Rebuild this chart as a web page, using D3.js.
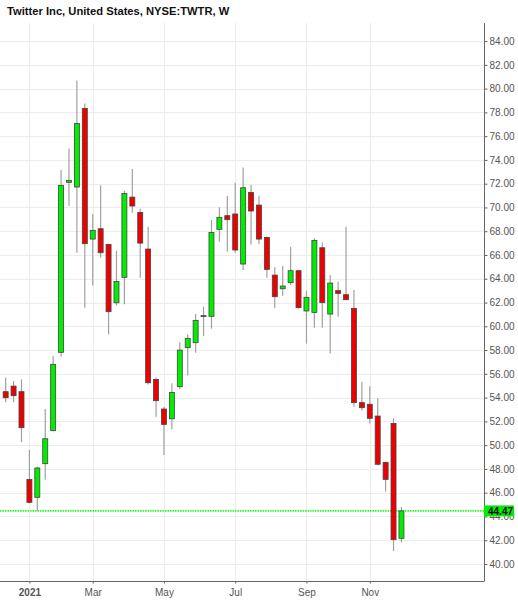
<!DOCTYPE html>
<html>
<head>
<meta charset="utf-8">
<script src="https://cdn.jsdelivr.net/npm/d3@7"></script>
<style>
    body { margin: 0; background: #fff; }
    #chart text { font-family: "Liberation Sans", Arial, sans-serif; }
</style>
</head>
<body>
<div id="chart"></div>
<script>
// Weekly candles, week start dates
var weeks = [
    "2020-12-14", "2020-12-21", "2020-12-28",
    "2021-01-04", "2021-01-11", "2021-01-18", "2021-01-25",
    "2021-02-01", "2021-02-08", "2021-02-15", "2021-02-22",
    "2021-03-01", "2021-03-08", "2021-03-15", "2021-03-22", "2021-03-29",
    "2021-04-05", "2021-04-12", "2021-04-19", "2021-04-26",
    "2021-05-03", "2021-05-10", "2021-05-17", "2021-05-24", "2021-05-31",
    "2021-06-07", "2021-06-14", "2021-06-21", "2021-06-28",
    "2021-07-05", "2021-07-12", "2021-07-19", "2021-07-26",
    "2021-08-02", "2021-08-09", "2021-08-16", "2021-08-23", "2021-08-30",
    "2021-09-06", "2021-09-13", "2021-09-20", "2021-09-27",
    "2021-10-04", "2021-10-11", "2021-10-18", "2021-10-25",
    "2021-11-01", "2021-11-08", "2021-11-15", "2021-11-22", "2021-11-29"
];
var opens = [
    54.50, 54.97, 54.50, 47.12, 45.61, 48.44, 51.22, 57.81, 72.11, 71.72,
    78.33, 67.34, 68.21, 66.89, 61.98, 64.12, 70.87, 69.58, 66.50, 55.53,
    53.04, 52.22, 54.92, 58.20, 58.62, 60.84, 60.84, 68.16, 69.31, 69.45,
    65.24, 71.27, 70.20, 67.48, 64.31, 63.16, 63.67, 64.68, 61.29, 61.17,
    66.61, 61.03, 63.00, 62.66, 61.51, 53.58, 53.44, 52.45, 48.55, 51.83,
    42.16
];
var highs = [
    55.68, 55.40, 55.54, 49.59, 48.19, 53.04, 57.50, 73.15, 74.97, 80.66,
    78.75, 69.44, 71.86, 66.95, 66.36, 71.41, 73.23, 69.89, 68.38, 55.70,
    53.24, 55.20, 58.65, 59.32, 61.03, 61.65, 68.94, 70.01, 70.96, 72.08,
    73.37, 71.89, 70.96, 67.55, 64.96, 65.07, 66.70, 64.75, 63.00, 67.40,
    67.06, 64.31, 63.75, 68.38, 63.05, 55.34, 54.95, 53.94, 48.60, 52.26,
    44.80
];
var lows = [
    53.60, 53.60, 50.24, 45.10, 44.49, 47.09, 51.15, 57.44, 70.15, 66.19,
    61.56, 63.44, 65.77, 59.32, 61.76, 61.85, 69.56, 64.09, 55.11, 52.39,
    49.17, 51.33, 54.70, 55.87, 57.78, 59.18, 59.80, 67.12, 66.28, 66.19,
    64.74, 66.89, 66.92, 64.09, 61.54, 62.58, 63.47, 61.48, 58.54, 59.88,
    59.88, 57.72, 60.81, 62.20, 53.24, 52.90, 51.83, 48.30, 46.09, 41.09,
    41.82
];
var closes = [
    53.99, 54.16, 51.47, 45.19, 48.08, 50.54, 56.80, 71.86, 72.28, 77.07,
    66.95, 68.07, 66.19, 61.23, 63.78, 71.18, 70.12, 67.00, 55.25, 53.74,
    51.75, 54.44, 58.00, 58.99, 60.50, 60.90, 67.90, 69.17, 68.97, 66.42,
    71.66, 69.70, 67.34, 64.79, 62.49, 63.39, 64.68, 61.57, 62.44, 67.23,
    61.99, 63.64, 62.77, 62.24, 53.58, 53.15, 52.26, 48.39, 47.12, 42.05,
    44.47
];

// x axis ticks (first candle of each labelled month)
var xTickDates = ["2021-01-04", "2021-03-01", "2021-05-03", "2021-07-05", "2021-09-06", "2021-11-01"];
var xTickLabels = ["2021", "Mar", "May", "Jul", "Sep", "Nov"];
var yTicks = d3.range(40, 85, 2);
var lastPrice = 44.47;

var title = "Twitter Inc, United States, NYSE:TWTR, W";

var width = 518, height = 600;
var plot = {left: 0, right: 484, top: 23, bottom: 581};

var parse = d3.timeParse("%Y-%m-%d");

var candles = weeks.map(function(w, i) {
    return {date: parse(w), open: opens[i], high: highs[i], low: lows[i], close: closes[i]};
});

var svg = d3.select("#chart").append("svg")
    .attr("width", width)
    .attr("height", height);

var x = d3.scaleTime()
    .domain([parse("2020-12-09"), parse("2022-02-10")])
    .range([plot.left, plot.right]);

var y = d3.scaleLinear()
    .domain([38.57, 85.52])
    .range([plot.bottom, plot.top]);

// grid
svg.append("g").selectAll("line.hgrid")
    .data(yTicks)
    .enter().append("line")
    .attr("x1", plot.left).attr("x2", plot.right)
    .attr("y1", function(d) { return Math.round(y(d)) + 0.5; })
    .attr("y2", function(d) { return Math.round(y(d)) + 0.5; })
    .attr("stroke", "#ececec");

svg.append("g").selectAll("line.vgrid")
    .data(xTickDates)
    .enter().append("line")
    .attr("x1", function(d) { return Math.round(x(parse(d))) + 0.5; })
    .attr("x2", function(d) { return Math.round(x(parse(d))) + 0.5; })
    .attr("y1", plot.top).attr("y2", plot.bottom)
    .attr("stroke", "#ececec");

// last price line, a light green dotted rule
svg.append("line")
    .attr("x1", plot.left).attr("x2", plot.right)
    .attr("y1", y(lastPrice))
    .attr("y2", y(lastPrice))
    .attr("stroke", "#22ff22")
    .attr("stroke-width", 1.6)
    .attr("stroke-dasharray", "1.5,1");

// candles
var bodyW = 5;
var candle = svg.append("g").selectAll("g.candle")
    .data(candles)
    .enter().append("g")
    .attr("class", "candle");

candle.append("line")
    .attr("x1", function(d) { return x(d.date); })
    .attr("x2", function(d) { return x(d.date); })
    .attr("y1", function(d) { return y(d.high); })
    .attr("y2", function(d) { return y(d.low); })
    .attr("stroke", "#a0a0a0")
    .attr("stroke-width", 1.2);

candle.append("rect")
    .attr("x", function(d) { return x(d.date) - bodyW / 2; })
    .attr("y", function(d) { return y(Math.max(d.open, d.close)); })
    .attr("width", bodyW)
    .attr("height", function(d) { return Math.max(1, Math.abs(y(d.open) - y(d.close))); })
    .attr("fill", function(d) { return d.close >= d.open ? "#00ee00" : "#ee0000"; })
    .attr("stroke", "#444")
    .attr("stroke-width", 0.8);

// right axis
var yAxis = d3.axisRight(y)
    .tickValues(yTicks)
    .tickSize(3)
    .tickPadding(2)
    .tickFormat(d3.format(".2f"));

var yg = svg.append("g")
    .attr("transform", "translate(" + (plot.right + 0.5) + ",0)")
    .call(yAxis);
yg.select(".domain").attr("stroke", "#666").attr("d", "M0," + plot.top + "V" + plot.bottom);
yg.selectAll(".tick line").attr("stroke", "#666");
yg.selectAll(".tick text").attr("fill", "#555").style("font-size", "10px");

// bottom axis
var xAxis = d3.axisBottom(x)
    .tickValues(xTickDates.map(parse))
    .tickSize(2)
    .tickPadding(5)
    .tickFormat(function(d, i) { return xTickLabels[i]; });

var xg = svg.append("g")
    .attr("transform", "translate(0," + (plot.bottom + 0.5) + ")")
    .call(xAxis);
xg.select(".domain").attr("stroke", "#666").attr("d", "M" + plot.left + ",0H" + (plot.right + 0.5));
xg.selectAll(".tick line").attr("stroke", "#666");
xg.selectAll(".tick text")
    .attr("fill", "#555")
    .style("font-size", "10px")
    .style("font-weight", function(d, i) { return i === 0 ? "bold" : "normal"; });

// last price label (covers the 44.00 tick label, as on the original)
var ly = y(lastPrice);
svg.append("rect")
    .attr("x", plot.right)
    .attr("y", ly - 5.5)
    .attr("width", 30)
    .attr("height", 11)
    .attr("fill", "#00ee00");
svg.append("text")
    .attr("x", plot.right + 4)
    .attr("y", ly + 4)
    .attr("fill", "#000")
    .style("font-size", "10px")
    .style("font-weight", "bold")
    .text(lastPrice.toFixed(2));

// title
svg.append("text")
    .attr("x", 7)
    .attr("y", 15)
    .attr("fill", "#111")
    .style("font-size", "11.2px")
    .style("font-weight", "bold")
    .text(title);
</script>
</body>
</html>
